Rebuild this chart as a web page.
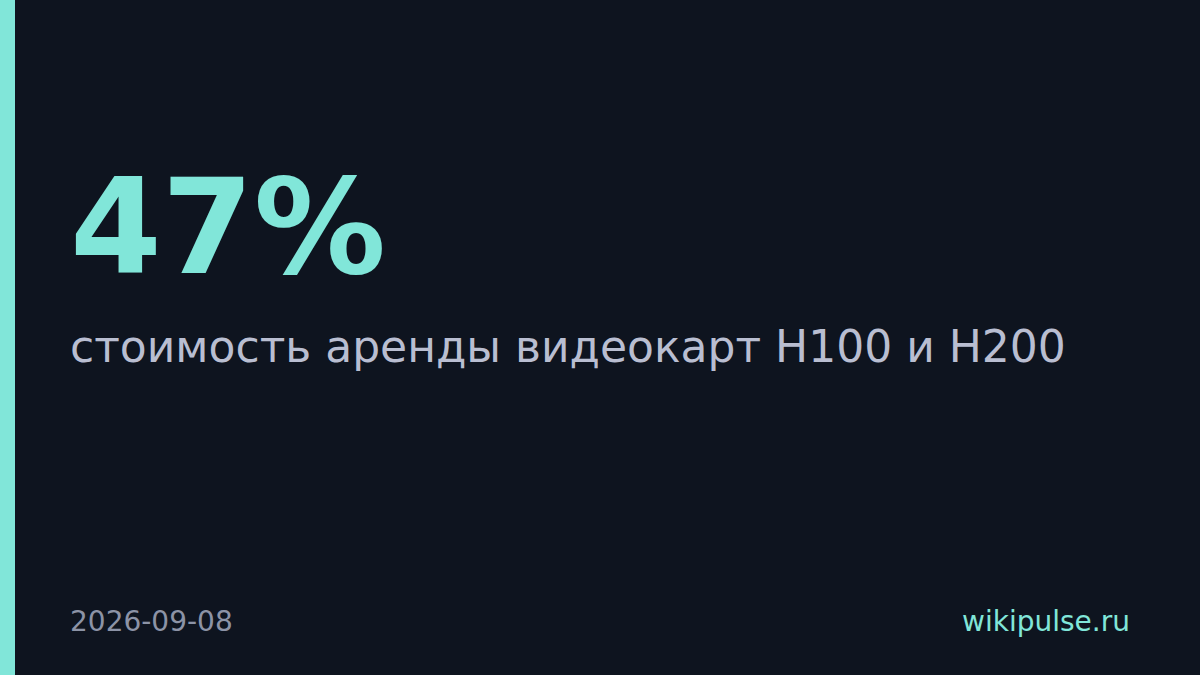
<!DOCTYPE html>
<html>
<head>
<meta charset="utf-8">
<script src="https://cdn.jsdelivr.net/npm/d3@7"></script>
<style>
  html, body { margin: 0; padding: 0; background: #0e141f; }
  svg { display: block; }
</style>
</head>
<body>
<div id="card"></div>
<script>
// card content
const statValue = ["47%"];
const statLabel = ["стоимость аренды видеокарт H100 и H200"];
const footerLeft = ["2026-09-08"];
const footerRight = ["wikipulse.ru"];

const w = 1200;
const h = 675;
const accent = "#81e6d9";

const svg = d3
  .select("#card")
  .append("svg")
  .attr("width", w)
  .attr("height", h)
  .style("font-family", "'DejaVu Sans', sans-serif");

svg.append("rect").attr("width", w).attr("height", h).attr("fill", "#0e141f");

// left accent strip
svg.append("rect").attr("x", 0).attr("y", 0).attr("width", 15).attr("height", h).attr("fill", accent);

svg
  .selectAll("text.value")
  .data(statValue)
  .enter()
  .append("text")
  .attr("class", "value")
  .attr("x", 70)
  .attr("y", 273)
  .attr("fill", accent)
  .style("font-size", "132px")
  .style("font-weight", "bold")
  .text(d => d);

svg
  .selectAll("text.label")
  .data(statLabel)
  .enter()
  .append("text")
  .attr("class", "label")
  .attr("x", 70)
  .attr("y", 362)
  .attr("fill", "#b9bed1")
  .style("font-size", "44px")
  .text(d => d);

svg
  .selectAll("text.date")
  .data(footerLeft)
  .enter()
  .append("text")
  .attr("class", "date")
  .attr("x", 70)
  .attr("y", 631)
  .attr("fill", "#8c93a6")
  .style("font-size", "28px")
  .text(d => d);

svg
  .selectAll("text.site")
  .data(footerRight)
  .enter()
  .append("text")
  .attr("class", "site")
  .attr("x", 1130)
  .attr("y", 631)
  .attr("text-anchor", "end")
  .attr("fill", accent)
  .style("font-size", "28px")
  .text(d => d);
</script>
</body>
</html>
